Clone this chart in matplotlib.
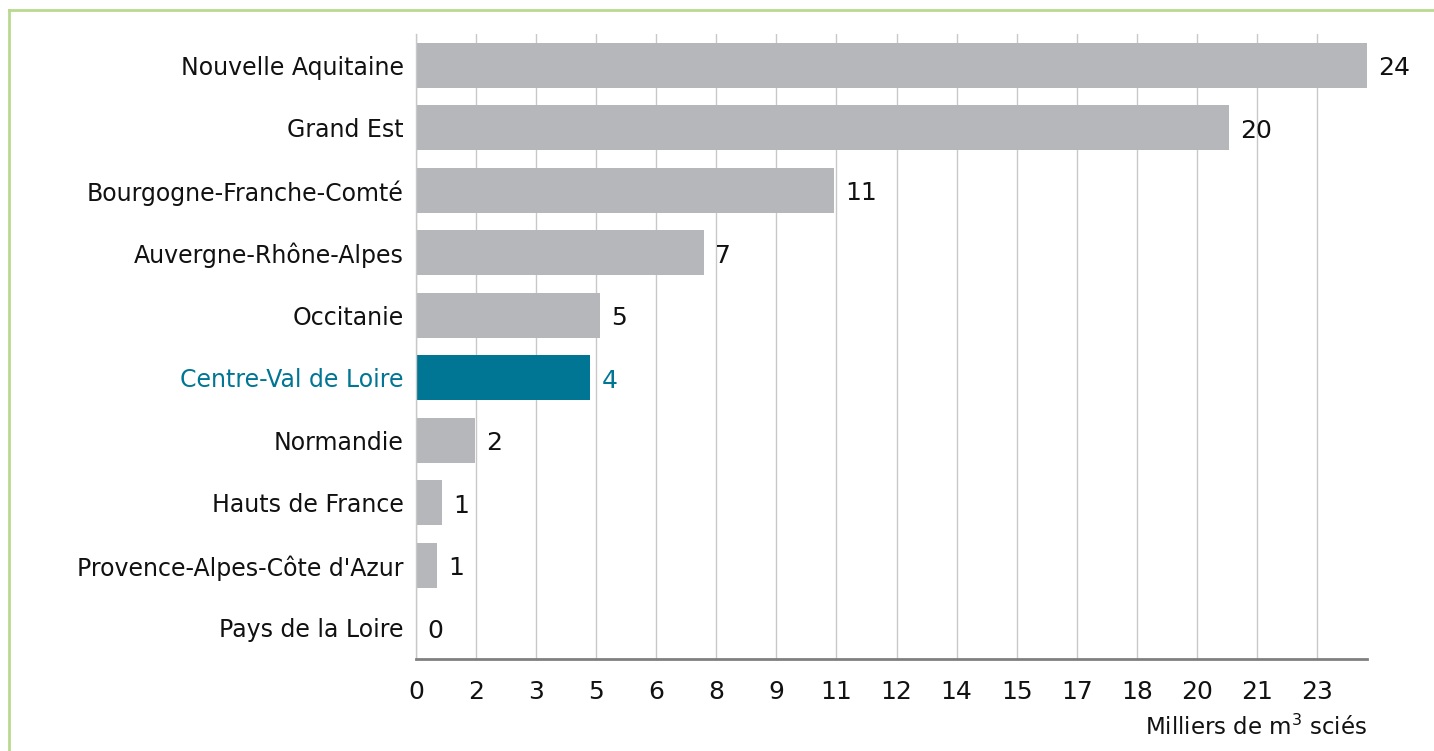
import numpy as np
import matplotlib.pyplot as plt
from matplotlib.lines import Line2D

plt.rcParams['font.family'] = ['DejaVu Sans']

# data (thousands of m3 sawn), top to bottom
regions = ['Nouvelle Aquitaine', 'Grand Est', 'Bourgogne-Franche-Comté',
           'Auvergne-Rhône-Alpes', 'Occitanie', 'Centre-Val de Loire',
           'Normandie', 'Hauts de France', "Provence-Alpes-Côte d'Azur",
           'Pays de la Loire']
values = [23.75, 20.3, 10.43, 7.2, 4.6, 4.35, 1.48, 0.65, 0.52, 0.0]
value_labels = ['24', '20', '11', '7', '5', '4', '2', '1', '1', '0']
tick_labels = ['0', '2', '3', '5', '6', '8', '9', '11', '12', '14', '15',
               '17', '18', '20', '21', '23']
highlight = 'Centre-Val de Loire'

GREY = '#b6b7ba'
TEAL = '#007694'
TXT = '#111111'

fig = plt.figure(figsize=(14.34, 7.51), dpi=100)
ax = fig.add_axes([0.2901, 0.1225, 0.6632, 0.8322])

y = np.arange(len(regions))
colors = [TEAL if r == highlight else GREY for r in regions]
ax.barh(y, values, height=0.72, color=colors, zorder=2)

ax.set_ylim(len(regions) - 0.5, -0.5)
ax.set_xlim(0, 23.75)
ax.set_yticks(y)
ax.set_yticklabels(regions, fontsize=17, color=TXT)
for lab, r in zip(ax.get_yticklabels(), regions):
    if r == highlight:
        lab.set_color(TEAL)
ax.set_xticks(np.arange(len(tick_labels)) * 1.5)
ax.set_xticklabels(tick_labels, fontsize=18, color=TXT)
ax.tick_params(axis='x', length=0, pad=15)
ax.tick_params(axis='y', length=0, pad=9)

ax.grid(axis='x', color='#c8c8c8', linewidth=1.0, zorder=0)
for s in ['top', 'right']:
    ax.spines[s].set_visible(False)
ax.spines['left'].set_color('#c8c8c8')
ax.spines['left'].set_linewidth(1.0)
ax.spines['bottom'].set_color('#808080')
ax.spines['bottom'].set_linewidth(2)

for yi, v, lab, r in zip(y, values, value_labels, regions):
    ax.annotate(lab, (v, yi), xytext=(8, -2), textcoords='offset points',
                ha='left', va='center', fontsize=18,
                color=TEAL if r == highlight else TXT)

fig.text(0.9533, 0.022, 'Milliers de m$^{3}$ sciés', ha='right', va='baseline',
         fontsize=16.5, color=TXT)

# light green frame (left and top only visible)
fig.add_artist(Line2D([0.0063, 0.0063], [0, 0.987], color='#b8d98f', lw=2,
                      transform=fig.transFigure))
fig.add_artist(Line2D([0.0063, 1.0], [0.987, 0.987], color='#b8d98f', lw=2,
                      transform=fig.transFigure))

fig.savefig('out.png', dpi=100)
